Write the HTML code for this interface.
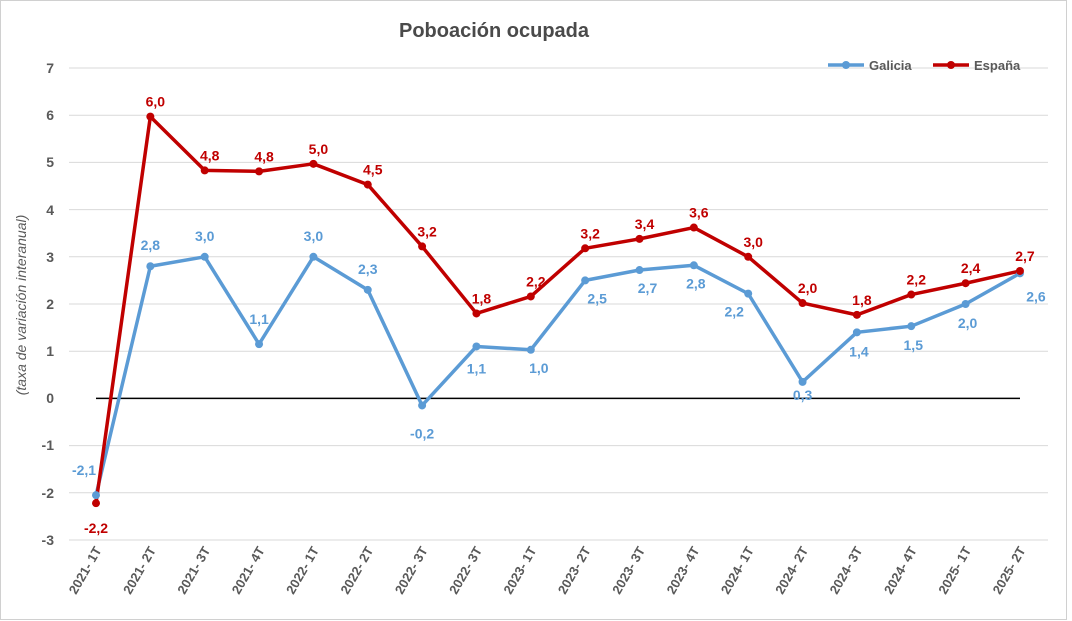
<!DOCTYPE html>
<html><head><meta charset="utf-8"><style>
body{margin:0;background:#fff}
svg{display:block;font-family:"Liberation Sans",Arial,sans-serif}
</style></head><body>
<svg width="1072" height="621" viewBox="0 0 1072 621">
<rect x="0.5" y="0.5" width="1066" height="619" fill="#fff" stroke="#d0d0d0"/>
<text x="494" y="37" text-anchor="middle" font-size="20" font-weight="bold" fill="#4a4a4a">Poboación ocupada</text>
<g stroke="#d9d9d9" stroke-width="1">
<line x1="69" x2="1048" y1="68" y2="68"/><line x1="69" x2="1048" y1="115.2" y2="115.2"/>
<line x1="69" x2="1048" y1="162.4" y2="162.4"/><line x1="69" x2="1048" y1="209.6" y2="209.6"/>
<line x1="69" x2="1048" y1="256.8" y2="256.8"/><line x1="69" x2="1048" y1="304" y2="304"/>
<line x1="69" x2="1048" y1="351.2" y2="351.2"/><line x1="69" x2="1048" y1="445.6" y2="445.6"/>
<line x1="69" x2="1048" y1="492.8" y2="492.8"/><line x1="69" x2="1048" y1="540" y2="540"/>
</g>
<line x1="96" x2="1020" y1="398.4" y2="398.4" stroke="#000" stroke-width="1.5"/>
<g font-size="14" font-weight="bold" fill="#595959" text-anchor="end">
<text x="54" y="73">7</text><text x="54" y="120">6</text><text x="54" y="167">5</text><text x="54" y="215">4</text><text x="54" y="262">3</text><text x="54" y="309">2</text><text x="54" y="356">1</text><text x="54" y="403">0</text><text x="54" y="450">-1</text><text x="54" y="498">-2</text><text x="54" y="545">-3</text>
</g>
<text transform="translate(26,305) rotate(-90)" text-anchor="middle" font-size="14" font-style="italic" fill="#595959">(taxa de variación interanual)</text>
<g id="xl" font-size="13" font-weight="bold" fill="#595959" text-anchor="end"></g>
<polyline id="pg" fill="none" stroke="#5b9bd5" stroke-width="3.5" stroke-linejoin="round"/>
<polyline id="pe" fill="none" stroke="#c00000" stroke-width="3.5" stroke-linejoin="round"/>
<g id="dots"></g>
<g id="lbl" font-size="14" font-weight="bold"></g>
<g font-size="13" font-weight="bold" fill="#595959">
<line x1="828" x2="864" y1="65" y2="65" stroke="#5b9bd5" stroke-width="3.5"/><circle cx="846" cy="65" r="4" fill="#5b9bd5"/>
<text x="869" y="70">Galicia</text>
<line x1="933" x2="969" y1="65" y2="65" stroke="#c00000" stroke-width="3.5"/><circle cx="951" cy="65" r="4" fill="#c00000"/>
<text x="974" y="70">España</text>
</g>
<script>
var cats=["2021- 1T","2021- 2T","2021- 3T","2021- 4T","2022- 1T","2022- 2T","2022- 3T","2022- 3T","2023- 1T","2023- 2T","2023- 3T","2023- 4T","2024- 1T","2024- 2T","2024- 3T","2024- 4T","2025- 1T","2025- 2T"];
var g=[-2.05,2.8,3.0,1.15,3.0,2.3,-0.15,1.1,1.03,2.5,2.72,2.82,2.22,0.35,1.4,1.53,2.0,2.65];
var e=[-2.22,5.97,4.83,4.81,4.97,4.53,3.22,1.8,2.16,3.18,3.38,3.62,3.0,2.02,1.77,2.2,2.44,2.7];
var gl=["-2,1","2,8","3,0","1,1","3,0","2,3","-0,2","1,1","1,0","2,5","2,7","2,8","2,2","0,3","1,4","1,5","2,0","2,6"];
var el=["-2,2","6,0","4,8","4,8","5,0","4,5","3,2","1,8","2,2","3,2","3,4","3,6","3,0","2,0","1,8","2,2","2,4","2,7"];
var gp=[[-12,-20],[0,-16],[0,-16],[0,-17],[0,-16],[0,-16],[0,33],[0,27],[8,23],[12,23],[8,23],[2,23],[-14,23],[0,18],[2,24],[2,24],[2,24],[16,28]];
function X(i){return 96+i*54.35}function Y(v){return 398.4-v*47.2}
var ns="http://www.w3.org/2000/svg";
function mk(p,t,a,txt){var el_=document.createElementNS(ns,t);for(var k in a)el_.setAttribute(k,a[k]);if(txt)el_.textContent=txt;document.getElementById(p).appendChild(el_);}
document.getElementById("pg").setAttribute("points",g.map(function(v,i){return X(i)+","+Y(v)}).join(" "));
document.getElementById("pe").setAttribute("points",e.map(function(v,i){return X(i)+","+Y(v)}).join(" "));
for(var i=0;i<18;i++){
 var x=X(i);
 mk("xl","text",{transform:"translate("+(x+6)+",550) rotate(-60)"},cats[i]);
 mk("dots","circle",{cx:x,cy:Y(g[i]),r:4,fill:"#5b9bd5"});
 mk("dots","circle",{cx:x,cy:Y(e[i]),r:4,fill:"#c00000"});
 mk("lbl","text",{x:x+gp[i][0],y:Y(g[i])+gp[i][1]-(i==3?3:0),fill:"#5b9bd5","text-anchor":"middle"},gl[i]);
 var ey=i==0?Y(e[i])+30:Y(e[i])-10;
 mk("lbl","text",{x:x+(i==0?0:5),y:ey,fill:"#c00000","text-anchor":"middle"},el[i]);
}
</script>
</svg>
</body></html>
